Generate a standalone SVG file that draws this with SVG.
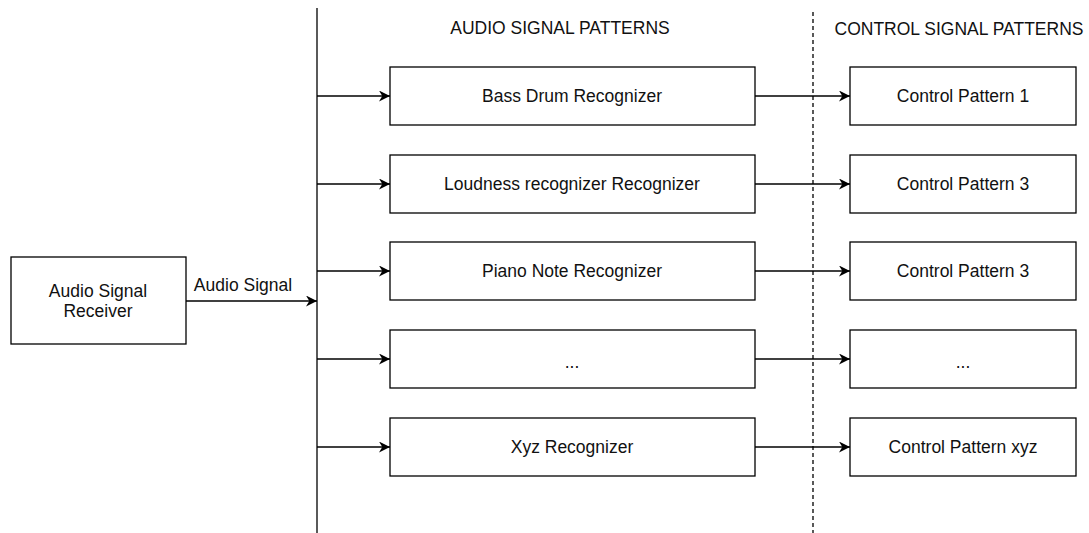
<svg xmlns="http://www.w3.org/2000/svg" width="1089" height="533" viewBox="0 0 1089 533">
<defs>
<marker id="ah" viewBox="0 0 10 10" refX="10" refY="5" markerWidth="11" markerHeight="11" markerUnits="userSpaceOnUse" orient="auto">
<path d="M0,0 L10,5 L0,10 L3,5 Z" fill="#000"/>
</marker>
</defs>
<style>
.box{fill:#fff;stroke:#000;stroke-width:1.3}
.t{font-family:"Liberation Sans",Arial,sans-serif;font-size:17.5px;fill:#111;text-anchor:middle;dominant-baseline:central}
.c{stroke:#000;stroke-width:1.3;fill:none}
</style>
<rect width="1089" height="533" fill="#fff"/>
<g id="headers">
<text class="t" x="560" y="28">AUDIO SIGNAL PATTERNS</text>
<text class="t" x="959" y="29">CONTROL SIGNAL PATTERNS</text>
</g>
<g id="connectors">
<line class="c" x1="317" y1="8" x2="317" y2="533"/>
<line class="c" x1="813" y1="12" x2="813" y2="533" stroke-dasharray="4 3"/>
<line class="c" x1="186" y1="301" x2="317" y2="301" marker-end="url(#ah)"/>
<text class="t" x="243" y="285">Audio Signal</text>
<line class="c" x1="317" y1="96" x2="390" y2="96" marker-end="url(#ah)"/>
<line class="c" x1="317" y1="184" x2="390" y2="184" marker-end="url(#ah)"/>
<line class="c" x1="317" y1="271" x2="390" y2="271" marker-end="url(#ah)"/>
<line class="c" x1="317" y1="359" x2="390" y2="359" marker-end="url(#ah)"/>
<line class="c" x1="317" y1="447" x2="390" y2="447" marker-end="url(#ah)"/>
<line class="c" x1="755" y1="96" x2="850" y2="96" marker-end="url(#ah)"/>
<line class="c" x1="755" y1="184" x2="850" y2="184" marker-end="url(#ah)"/>
<line class="c" x1="755" y1="271" x2="850" y2="271" marker-end="url(#ah)"/>
<line class="c" x1="755" y1="359" x2="850" y2="359" marker-end="url(#ah)"/>
<line class="c" x1="755" y1="447" x2="850" y2="447" marker-end="url(#ah)"/>
</g>
<g id="receiver">
<rect class="box" x="11" y="257" width="175" height="87"/>
<text class="t" x="98" y="291">Audio Signal</text>
<text class="t" x="98" y="311">Receiver</text>
</g>
<g id="rec1"><rect class="box" x="390" y="67" width="365" height="58"/><text class="t" x="572" y="96">Bass Drum Recognizer</text></g>
<g id="rec2"><rect class="box" x="390" y="155" width="365" height="58"/><text class="t" x="572" y="184">Loudness recognizer Recognizer</text></g>
<g id="rec3"><rect class="box" x="390" y="242" width="365" height="58"/><text class="t" x="572" y="271">Piano Note Recognizer</text></g>
<g id="rec4"><rect class="box" x="390" y="330" width="365" height="58"/><text class="t" x="572" y="362">...</text></g>
<g id="rec5"><rect class="box" x="390" y="418" width="365" height="58"/><text class="t" x="572" y="447">Xyz Recognizer</text></g>
<g id="ctl1"><rect class="box" x="850" y="67" width="226" height="58"/><text class="t" x="963" y="96">Control Pattern 1</text></g>
<g id="ctl2"><rect class="box" x="850" y="155" width="226" height="58"/><text class="t" x="963" y="184">Control Pattern 3</text></g>
<g id="ctl3"><rect class="box" x="850" y="242" width="226" height="58"/><text class="t" x="963" y="271">Control Pattern 3</text></g>
<g id="ctl4"><rect class="box" x="850" y="330" width="226" height="58"/><text class="t" x="963" y="362">...</text></g>
<g id="ctl5"><rect class="box" x="850" y="418" width="226" height="58"/><text class="t" x="963" y="447">Control Pattern xyz</text></g>
</svg>
